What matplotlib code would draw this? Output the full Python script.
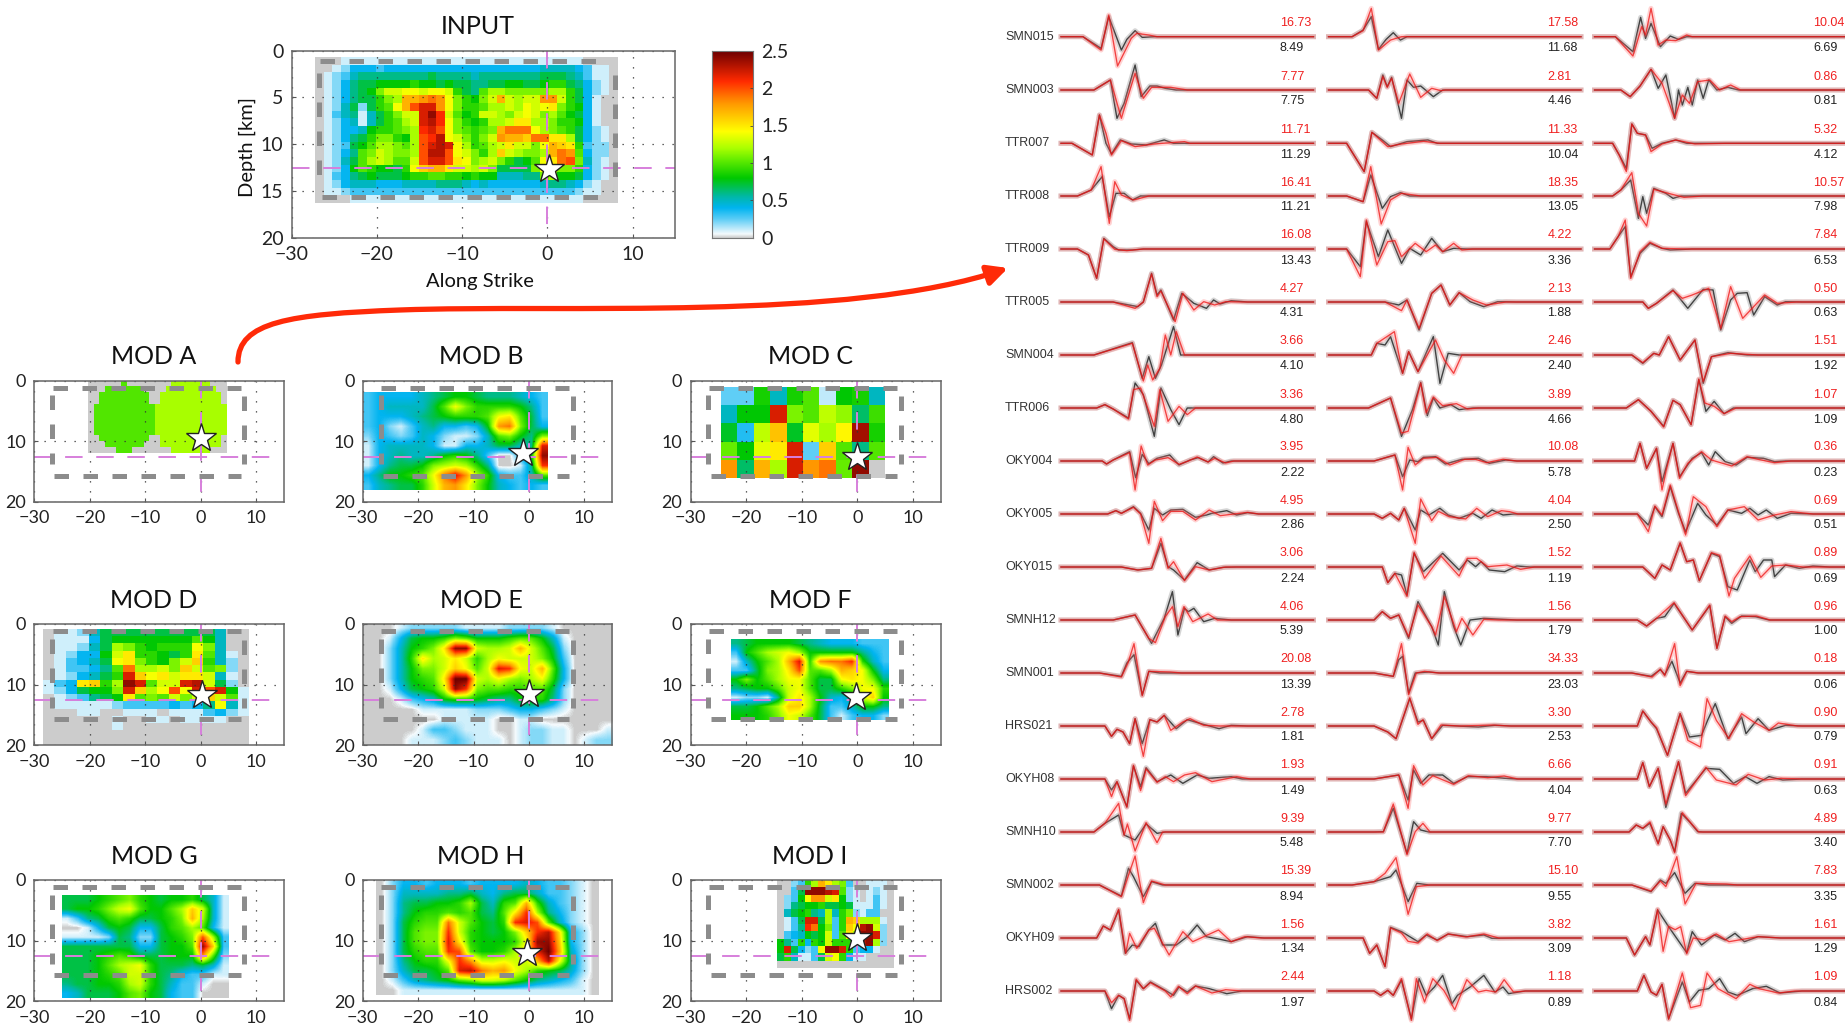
import matplotlib
matplotlib.use("Agg")
import matplotlib.pyplot as plt
import numpy as np
from matplotlib.colors import LinearSegmentedColormap
from matplotlib.patches import FancyArrowPatch
from matplotlib.path import Path

# slip grids, values are slip in tenths of a metre
input_grid = [
[0,0,0,1,1,1,1,1,1,1,1,1,1,1,1,1,1,1,1,1,1,1,1,1,1,1,1,1,1,1,1,0,0,0,0],
[0,0,1,2,4,4,4,3,4,4,4,4,4,4,4,4,4,4,4,4,4,4,4,4,4,4,5,5,5,5,4,3,1,1,0],
[0,1,2,3,5,6,6,6,6,6,6,6,6,7,6,6,6,6,5,6,6,6,6,6,6,6,7,7,7,6,5,3,1,1,0],
[0,1,2,4,6,7,7,8,8,8,8,9,8,8,7,8,7,7,6,6,7,7,8,8,7,7,8,9,9,7,6,4,2,1,0],
[0,1,2,4,6,7,8,11,13,13,14,14,13,14,14,13,9,7,6,10,12,12,11,11,11,11,11,12,12,9,7,4,2,1,0],
[0,1,2,4,6,7,7,9,11,12,17,17,18,19,18,14,11,9,8,11,13,17,13,12,13,13,18,18,13,9,7,4,1,0,0],
[0,1,2,5,7,2,7,9,10,14,17,20,22,22,18,14,11,9,9,10,12,12,13,12,14,13,14,15,11,9,8,4,1,0,0],
[0,1,3,5,6,1,5,7,9,11,13,13,22,24,21,13,10,8,9,13,13,12,11,13,14,13,11,12,10,8,7,4,1,0,0],
[0,1,2,4,5,1,5,7,9,10,12,13,22,23,21,14,11,9,8,9,12,12,13,15,15,12,12,11,9,9,8,4,1,0,0],
[0,1,2,4,4,5,8,9,9,10,11,12,21,22,20,14,11,10,9,10,11,17,19,19,19,14,12,11,10,9,7,4,2,1,0],
[0,1,2,4,6,7,9,11,11,9,8,12,20,21,23,14,13,11,9,11,13,18,17,17,16,19,19,15,15,12,7,4,2,1,0],
[0,1,2,3,7,8,10,12,12,11,10,12,20,22,23,22,14,12,9,10,12,13,15,13,13,11,14,17,16,15,9,3,2,2,0],
[0,1,2,4,6,10,11,13,12,11,11,12,20,23,23,20,14,13,11,9,12,16,13,12,11,11,12,17,19,18,10,4,2,2,0],
[0,1,2,5,7,10,12,13,12,10,10,13,20,22,22,20,15,14,11,12,13,11,9,7,8,10,14,15,19,20,11,5,2,1,0],
[0,1,2,4,8,10,9,8,8,7,9,14,16,17,17,15,13,13,12,13,11,7,7,7,7,11,14,13,11,11,9,4,2,1,0],
[0,1,3,4,6,7,8,7,7,7,8,9,9,10,10,9,9,8,9,8,8,5,5,5,6,6,11,12,8,8,7,4,2,1,0],
[0,1,2,4,5,5,5,4,4,4,5,5,5,5,6,6,6,5,4,5,4,4,4,4,4,4,5,6,6,5,4,2,1,0,0],
[0,1,1,2,3,3,3,3,3,3,3,3,3,3,3,3,3,3,3,3,3,3,3,3,3,3,3,3,3,3,2,1,1,0,0],
[0,0,0,0,1,1,1,1,1,1,1,1,1,1,1,1,1,1,1,1,1,1,1,1,1,1,1,1,1,1,1,0,0,0,0],
]
mod_a = [
[0,0,0,0,0,0,10,0,0,0,0,0,0,0,0,12,12,12,12,12,12,12,0,0,0],
[0,0,0,10,10,10,10,10,10,10,0,0,0,0,12,12,12,12,12,12,12,12,12,0,0],
[0,0,10,10,10,10,10,10,10,10,10,0,0,12,12,12,12,12,12,12,12,12,12,12,0],
[0,0,10,10,10,10,10,10,10,10,10,0,0,12,12,12,12,12,12,12,12,12,12,12,0],
[0,10,10,10,10,10,10,10,10,10,10,10,12,12,12,12,12,12,12,12,12,12,12,12,12],
[0,10,10,10,10,10,10,10,10,10,10,10,12,12,12,12,12,12,12,12,12,12,12,12,12],
[0,10,10,10,10,10,10,10,10,10,10,10,12,12,12,12,12,12,12,12,12,12,12,12,12],
[0,10,10,10,10,10,10,10,10,10,10,10,12,12,12,12,12,12,12,12,12,12,12,12,12],
[0,10,10,10,10,10,10,10,10,10,10,10,12,12,12,12,12,12,12,12,12,12,12,12,12],
[0,0,10,10,10,10,10,10,10,10,10,0,0,12,12,12,12,12,12,12,12,12,12,12,0],
[0,0,0,10,10,10,10,10,10,10,0,0,0,12,12,12,12,12,12,12,12,12,12,12,0],
[0,0,0,0,0,10,10,10,0,0,0,0,0,0,0,12,12,12,12,12,12,12,0,0,0],
]
mod_b = [
[3,4,4,4,4,5,6,7,8,8,7,6,6,6,5,4,3],
[3,4,5,5,5,5,7,10,14,11,9,9,9,9,8,6,3],
[3,4,4,4,5,6,7,8,9,9,9,10,14,15,10,7,3],
[3,4,2,1,3,5,6,4,4,3,4,8,18,19,11,7,4],
[2,4,3,2,3,5,4,2,1,1,2,5,10,11,8,6,11],
[1,4,5,5,5,5,4,1,1,4,4,5,7,7,5,6,22],
[1,4,5,6,5,5,6,8,9,8,6,3,0,0,4,8,24],
[1,4,6,7,7,8,11,12,13,12,9,6,0,0,1,6,21],
[4,6,8,8,9,10,14,19,22,18,12,9,4,3,3,5,10],
[3,5,6,7,7,9,13,17,18,15,11,8,5,4,3,4,3],
]
mod_c = [
[2.5,2.5,8.5,5,8.5,10,1.2,8,8.5,5],
[5,8,8,22,11,10,12.5,11.5,6.5,9.5],
[7.5,3.5,12.5,16.5,7.5,13.5,12,14.5,23.5,8.5],
[10.5,8,13.5,15,22,2.5,16,10,6,10],
[18,6.5,17,12,22,18,19,10.5,24,0],
]
mod_d = [
[0,1,1,2,5,7,7,7,7,7,7,7,7,7,7,5,0,0],
[0,1,1,1,4,7,8,8,8,8,8,8,8,10,8,5,0,0],
[0,1,1,2,5,7,12,11,9,8,9,9,9,14,11,5,0,0],
[0,1,2,4,4,8,13,15,9,9,8,7,9,15,10,5,1,0],
[0,1,3,4,5,7,14,15,11,9,8,11,13,16,9,5,2,0],
[0,1,3,3,4,6,10,19,12,12,13,11,16,13,10,11,2,0],
[0,1,2,4,5,7,9,22,16,14,15,13,15,15,13,5,1,0],
[1,3,4,15,16,9,12,24,22,10,13,13,22,23,13,7,2,0],
[1,2,4,7,8,8,11,22,16,12,14,20,14,22,20,22,8,1],
[0,1,2,3,6,7,8,15,10,11,10,13,11,13,16,13,10,1],
[0,1,1,1,1,1,2,3,3,3,3,4,3,4,6,14,5,1],
[0,0,0,1,1,0,0,1,1,1,0,1,1,1,3,4,2,1],
[0,0,0,0,0,0,1,0,0,1,1,0,1,1,1,1,0,0],
[0,0,0,0,0,0,1,0,0,0,0,0,0,0,0,0,0,0],
[0,0,0,0,0,0,0,0,0,0,0,0,0,0,0,0,0,0],
[0,0,0,0,0,0,0,0,0,0,0,0,0,0,0,0,0,0],
]
mod_e = [
[0,0,0,1,2,2,2,2,2,1,1,1,1,2,2,2,2,1,0,0,0,0,0],
[0,0,1,4,7,8,8,9,11,10,8,8,8,9,10,10,8,5,1,0,0,0,0],
[0,0,2,5,8,9,11,15,24,24,13,12,12,13,17,13,10,7,2,0,0,0,0],
[0,0,2,5,9,15,12,13,15,13,9,12,14,13,13,13,11,8,3,0,0,0,0],
[0,0,2,5,8,11,11,13,16,14,10,13,22,21,14,13,17,10,4,0,0,0,0],
[0,0,2,5,8,9,10,15,25,25,13,12,14,12,11,12,14,9,4,0,0,0,0],
[0,0,1,4,7,8,9,13,24,21,11,10,10,9,9,10,10,7,2,0,0,0,0],
[0,0,0,1,3,4,5,8,9,9,8,7,6,6,8,9,9,6,2,0,0,0,0],
[0,0,0,0,0,1,1,1,1,1,2,2,2,3,4,4,3,2,1,0,0,0,0],
[0,0,0,0,0,0,0,1,1,1,1,1,0,0,1,1,0,0,0,0,0,0,0],
[0,0,0,0,0,1,3,3,2,1,1,1,0,0,1,2,2,1,1,0,0,0,1],
[0,0,0,0,1,1,1,2,3,2,1,1,1,0,1,2,2,1,1,0,1,2,2],
]
mod_f = [
[6,7,8,8,8,8,7,6,5,4,4,4,3,3,3],
[3,8,10,12,13,14,12,8,8,8,8,8,6,4,3],
[1,5,8,10,12,17,22,9,18,19,19,21,9,5,3],
[3,3,7,11,12,15,20,10,10,12,17,16,14,8,4],
[8,11,8,10,12,14,14,10,7,7,14,15,14,11,6],
[6,7,8,8,10,13,14,10,7,7,9,11,14,14,9],
[1,2,2,1,6,13,15,12,8,5,4,6,13,16,8],
[7,7,8,10,12,16,16,12,7,3,3,5,8,8,6],
[8,8,8,9,11,14,13,10,7,3,1,3,4,4,2],
]
mod_g = [
[7,7,7,8,9,10,11,9,8,7,8,8,9,7,5,1],
[7,8,8,9,11,13,14,10,8,8,10,12,16,13,5,1],
[1,3,6,7,9,10,9,7,7,8,9,11,17,12,5,1],
[0,0,1,4,7,8,7,4,4,7,9,10,12,10,4,1],
[1,1,1,1,2,7,6,2,2,7,8,9,11,20,12,3],
[7,7,7,7,7,7,7,4,4,7,8,8,10,24,16,3],
[7,7,7,8,9,10,9,7,7,7,8,8,8,18,10,2],
[7,7,7,8,10,12,13,14,9,7,7,7,6,7,5,1],
[7,7,7,8,9,10,13,13,9,7,6,4,3,3,1,1],
[6,7,7,8,8,9,12,13,9,7,5,3,3,1,0,0],
[4,5,7,7,7,8,10,11,8,7,4,3,3,0,0,0],
]
mod_h = [
[0,2,4,4,3,4,4,4,3,4,4,4,4,5,4,3,3,2,1,0],
[0,2,5,5,5,5,6,6,7,5,4,6,7,7,5,3,3,2,1,0],
[0,2,6,7,7,8,8,9,12,7,5,9,10,17,9,5,3,2,1,0],
[0,2,6,8,9,9,10,9,10,7,6,10,15,21,12,6,4,2,1,0],
[0,2,7,9,10,10,19,13,10,8,7,9,21,22,20,10,5,2,1,0],
[0,2,7,10,11,11,21,13,9,8,7,8,11,16,21,23,15,4,2,0],
[0,2,7,10,11,11,22,15,9,8,8,8,9,14,24,24,16,4,2,0],
[0,2,7,9,10,10,21,20,10,8,8,9,12,16,22,25,17,5,2,0],
[0,2,6,8,9,9,14,21,18,13,13,14,13,13,17,23,14,6,2,0],
[0,2,5,7,7,8,10,22,23,19,17,18,14,12,9,8,7,5,2,0],
[0,1,3,5,6,7,8,10,11,13,13,12,10,8,6,5,4,3,1,0],
[0,0,1,1,1,1,1,1,1,1,1,1,1,1,1,1,1,1,1,0],
]
mod_i = [
[0,0,2,3,9,12,17,15,12,11,3,0,0,1,1,1,0],
[0,0,3,7,24,24,24,23,22,10,2,1,0,1,2,1,0],
[0,2,3,8,14,18,18,13,15,8,2,1,0,1,3,1,0],
[0,2,6,7,8,8,9,7,7,8,7,1,1,1,3,1,0],
[0,5,7,8,9,6,5,12,5,9,11,2,1,3,3,0,0],
[0,1,3,7,22,22,7,12,3,9,17,16,12,12,12,1,0],
[0,1,3,6,21,19,8,11,3,9,16,14,23,24,13,2,0],
[0,3,4,5,8,7,8,13,3,10,15,12,24,24,22,2,0],
[8,6,3,9,4,9,8,13,9,9,9,11,23,24,12,2,0],
[8,22,7,4,2,3,14,24,24,22,9,3,4,4,1,0,0],
[7,9,5,1,1,3,7,13,14,9,4,1,1,0,0,0,0],
[0,0,0,0,0,0,0,0,0,0,0,0,0,0,0,0,0],
]

# along strike and depth limits of each grid, then hypocentre star (None = no star)
mod_names = ["MOD A", "MOD B", "MOD C", "MOD D", "MOD E", "MOD F", "MOD G", "MOD H", "MOD I"]
mod_grids = [mod_a, mod_b, mod_c, mod_d, mod_e, mod_f, mod_g, mod_h, mod_i]
mod_extent = [(-20.4, 4.6, 12, 0), (-30, 3.3, 18, 2), (-24.5, 5, 16, 1), (-28.5, 8.5, 20, 1), (-30, 15, 20, 0),
              (-22.7, 5.6, 15.9, 2.7), (-25, 5.1, 19.4, 2.5), (-27.6, 12.6, 19, 0), (-14.5, 6.5, 14.5, 0)]
mod_smooth = [False, True, False, False, True, True, True, True, False]
mod_star_x = [0, -1, 0, 0.2, 0, -0.3, None, -0.3, 0]
mod_star_y = [9.5, 12, 12.5, 11.7, 11.5, 12, None, 12, 9.5]

stations = ["SMN015", "SMN003", "TTR007", "TTR008", "TTR009", "TTR005", "SMN004", "TTR006", "OKY004", "OKY005",
            "OKY015", "SMNH12", "SMN001", "HRS021", "OKYH08", "SMNH10", "SMN002", "OKYH09", "HRS002"]
peak_red = [[16.73, 17.58, 10.04], [7.77, 2.81, 0.86], [11.71, 11.33, 5.32], [16.41, 18.35, 10.57], [16.08, 4.22, 7.84],
            [4.27, 2.13, 0.50], [3.66, 2.46, 1.51], [3.36, 3.89, 1.07], [3.95, 10.08, 0.36], [4.95, 4.04, 0.69],
            [3.06, 1.52, 0.89], [4.06, 1.56, 0.96], [20.08, 34.33, 0.18], [2.78, 3.30, 0.90], [1.93, 6.66, 0.91],
            [9.39, 9.77, 4.89], [15.39, 15.10, 7.83], [1.56, 3.82, 1.61], [2.44, 1.18, 1.09]]
peak_black = [[8.49, 11.68, 6.69], [7.75, 4.46, 0.81], [11.29, 10.04, 4.12], [11.21, 13.05, 7.98], [13.43, 3.36, 6.53],
              [4.31, 1.88, 0.63], [4.10, 2.40, 1.92], [4.80, 4.66, 1.09], [2.22, 5.78, 0.23], [2.86, 2.50, 0.51],
              [2.24, 1.19, 0.69], [5.39, 1.79, 1.00], [13.39, 23.03, 0.06], [1.81, 2.53, 0.79], [1.49, 4.04, 0.63],
              [5.48, 7.70, 3.40], [8.94, 9.55, 3.35], [1.34, 3.09, 1.29], [1.97, 0.89, 0.84]]

# waveforms: time, amplitude, time, amplitude ... one list per component
obs_smn015 = [[40,0,73,-35,87,60,110,-40,120,-8,135,18,148,-2,170,0],[43,0,63,20,78,60,91,-38,105,-8,118,12,131,-10,143,0],[38,0,70,-45,84,58,93,-5,103,40,120,-30,138,2,153,-8,168,0]]
syn_smn015 = [[40,0,73,-40,87,65,103,-88,128,-5,138,10,160,5,175,0],[43,0,63,18,78,85,91,-40,113,-10,133,0],[38,0,70,-58,86,30,93,5,103,85,116,-25,130,-10,148,-12,168,5,178,0]]
obs_smn003 = [[60,0,90,30,102,-85,115,-40,135,75,146,-20,162,12,175,12,190,5,210,0],[73,0,88,-25,99,45,107,10,115,38,133,-85,143,30,155,8,168,12,191,-20,208,0],[48,0,65,-20,83,12,103,62,116,5,130,45,146,-85,153,0,160,-45,170,8,178,-45,188,30,198,-25,208,30,223,0,243,8,263,0]]
syn_smn003 = [[60,0,90,30,110,-85,120,-30,135,50,150,-25,165,8,200,8,230,0],[73,0,88,-25,99,40,107,8,115,35,128,-40,148,48,168,-22,188,5,205,-2,213,0],[48,0,65,-20,83,12,103,62,123,20,146,-85,160,-15,173,-40,188,25,210,30,228,0,248,15,266,0]]
obs_ttr007 = [[20,0,57,-35,70,85,82,0,92,-32,108,10,128,-2,155,-5,188,10,205,0],[33,0,65,-85,79,33,98,10,113,-10,143,5,181,10,198,0],[33,0,45,-35,58,-75,68,58,78,30,93,25,105,-15,123,0,148,10,168,0,208,0]]
syn_ttr007 = [[20,0,57,-35,70,85,82,30,92,-35,110,8,135,-10,170,-2,225,5,235,0],[33,0,65,-85,79,33,108,-10,133,-2,173,6,203,0],[33,0,45,-35,58,-85,68,58,78,30,93,25,103,-25,123,-2,148,10,183,-2,238,0]]
obs_ttr008 = [[30,0,55,18,75,58,88,-62,100,8,115,8,130,-12,145,0,160,0],[33,0,63,-17,77,63,98,-37,113,-2,131,10,148,0],[33,0,48,18,66,48,80,-67,88,-2,95,-52,108,23,130,8,143,-7,158,0]]
syn_ttr008 = [[30,0,55,18,73,88,88,-82,98,43,110,3,132,-12,160,0],[33,0,63,-17,77,88,96,-84,113,-12,133,8,168,0],[33,0,48,18,68,70,80,-52,95,-90,108,20,130,10,163,-4,198,0]]
obs_ttr009 = [[30,0,50,-18,65,-88,78,32,95,7,105,-3,130,-3,150,0],[33,0,58,-53,69,82,91,-23,108,57,133,-43,148,2,168,-18,188,32,208,-8,228,2,253,0],[28,0,43,37,56,67,66,-83,83,-13,101,17,123,2,138,-3,178,0]]
syn_ttr009 = [[30,0,50,-18,65,-88,78,30,98,-1,120,-5,150,0],[33,0,58,-83,69,87,88,-48,108,22,121,25,133,-23,158,17,178,-8,195,12,208,-8,228,17,243,-3,263,0],[28,0,43,37,56,87,66,-88,83,-8,101,20,123,2,168,0]]
obs_ttr005 = [[95,0,140,-14,150,0,165,86,175,21,182,36,205,-54,220,26,242,-4,265,-19,278,6,290,-6,310,4,340,0],[103,0,128,-9,143,6,165,-84,188,26,205,51,221,-9,238,28,258,1,283,-14,308,1,343,0],[88,0,98,-19,113,-4,143,36,170,-19,198,38,216,36,230,-84,248,6,260,26,278,28,290,-39,310,16,333,-9,348,1,378,0]]
syn_ttr005 = [[95,0,135,-19,150,0,165,84,175,16,182,33,208,-59,222,26,242,-24,260,1,280,-9,300,1,330,0],[103,0,133,-26,143,6,165,-79,188,26,205,51,221,-9,238,28,263,6,288,-9,323,0],[88,0,98,-19,113,-4,143,34,160,11,178,21,208,41,230,-79,248,46,270,-49,290,-14,310,21,333,-4,368,0]]
obs_smn004 = [[60,0,130,37,148,-70,160,-5,172,-70,183,-30,205,85,218,0,235,0],[78,0,88,35,103,30,113,55,135,-55,146,10,163,-50,191,55,203,-85,218,5,238,0],[68,0,88,-25,108,5,118,0,135,55,156,-15,183,45,198,-85,213,-5,243,7,278,0]]
syn_smn004 = [[60,0,130,35,150,-78,158,-30,167,-75,180,-40,190,60,200,0,210,70,225,0,240,0],[78,0,88,35,120,70,135,-55,146,10,163,-50,195,45,211,-15,228,-55,243,0],[68,0,88,-23,108,5,118,0,135,55,156,-15,183,45,198,-80,213,-5,248,5,298,0]]
obs_ttr006 = [[65,0,80,10,95,-3,123,-30,135,75,150,40,170,-85,182,60,200,-5,215,-50,230,0,255,0],[73,0,113,30,133,-85,153,-5,168,77,180,-23,191,30,203,0,223,10,238,-5,263,0],[58,0,80,25,103,-10,126,-55,143,23,156,10,176,-50,190,85,203,-10,218,20,236,-17,253,0,278,0]]
syn_ttr006 = [[65,0,80,10,95,-3,123,-33,132,55,145,60,170,-55,180,55,195,-40,215,5,230,-20,245,0],[73,0,113,30,133,-75,145,-70,168,75,178,-15,191,33,208,7,233,13,253,-3,273,0],[58,0,80,25,103,-10,126,-57,143,23,156,10,176,-50,190,87,201,15,218,5,236,-17,258,0]]
obs_oky004 = [[75,0,83,-9,95,3,125,28,136,-50,148,20,160,-8,175,8,198,18,215,-12,235,3,250,10,268,-3,278,13,295,-6,310,0,350,0],[83,0,121,18,135,-47,148,3,163,-2,173,11,195,13,213,-9,243,5,273,8,293,-7,323,3,343,0],[73,0,83,53,95,-22,113,38,123,-62,130,-22,143,53,155,-47,178,8,195,25,208,-12,220,28,238,-2,258,-12,278,11,308,8,328,-2,348,0]]
syn_oky004 = [[75,0,83,-9,95,3,125,25,135,-87,146,45,158,-12,172,3,195,10,215,-10,232,0,248,12,268,-3,280,8,300,-6,315,0],[83,0,121,18,135,-87,145,41,158,-12,173,8,198,11,221,-12,248,5,268,5,288,-5,318,5,343,0],[73,0,83,53,95,-22,113,38,123,-87,130,-32,143,53,155,-52,170,-7,195,28,213,3,250,-15,278,13,298,5,328,-5,358,0]]
obs_oky005 = [[85,0,100,10,110,2,132,22,145,2,160,-48,170,17,185,-3,200,12,222,14,245,-10,265,-3,275,2,302,10,320,-3,340,4,360,0],[83,0,98,-13,113,2,128,-18,138,17,158,-48,168,12,183,-3,203,17,218,-3,238,-13,263,2,278,-13,298,12,318,-3,338,0],[78,0,98,-33,110,22,123,-8,138,82,153,2,166,-53,188,32,203,-3,223,-33,243,12,268,2,283,17,298,-3,313,12,333,-13,358,2,398,0]]
syn_oky005 = [[85,0,100,10,110,2,132,20,145,0,160,-88,170,38,185,-20,200,8,222,8,245,-18,270,12,290,-5,340,5,360,0],[83,0,98,-13,113,2,128,-18,138,17,158,-88,168,45,188,-20,200,8,220,-8,250,-15,270,17,290,-8,315,10,330,7,345,0],[78,0,98,-53,110,24,123,-3,138,87,153,7,166,-63,180,52,203,22,223,-38,243,12,273,22,298,-18,328,-3,358,7,398,0]]
obs_oky015 = [[110,0,140,-9,165,-4,182,71,195,1,205,-9,225,-39,248,13,270,-9,295,-1,320,0],[98,0,108,-47,121,-19,133,-24,143,-84,156,41,173,-14,208,41,238,-9,253,21,268,1,278,16,293,-9,321,-14,343,3,368,0],[88,0,110,-34,123,6,138,-9,156,71,168,16,180,21,191,-41,213,41,228,31,243,-59,260,-69,283,21,293,-14,308,21,323,21,328,-29,348,6,373,-4,398,3,428,0]]
syn_oky015 = [[110,0,140,-9,165,-4,182,86,195,-4,205,16,225,-41,245,1,270,-9,300,0],[98,0,108,-47,121,-19,143,-88,156,44,175,-34,205,33,238,-27,253,26,270,26,290,1,325,6,350,-7,375,0],[88,0,110,-34,123,6,138,-9,156,73,168,16,180,21,191,-41,213,43,228,35,245,-87,255,-34,283,33,303,-31,323,3,348,6,380,0]]
obs_smnh12 = [[95,0,135,15,165,-70,188,5,203,85,213,-45,225,35,232,25,242,35,260,-5,280,5,310,0],[83,0,98,25,113,5,128,15,146,-55,163,55,188,-20,200,-75,211,85,228,-20,241,-75,258,0,283,5,343,0],[78,0,95,-18,113,5,128,10,145,50,178,-30,210,43,223,-85,238,10,250,-10,268,12,293,10,318,0]]
syn_smnh12 = [[95,0,135,15,160,-55,172,-68,190,10,203,40,213,-20,224,40,240,-5,268,18,285,0],[83,0,98,25,113,5,128,15,146,-50,163,45,188,-20,195,-45,211,70,233,-35,243,5,263,-45,283,2,310,0],[78,0,95,-18,113,5,145,52,178,-30,210,45,223,-85,238,12,250,-5,265,10,295,12,320,0]]
obs_smn001 = [[70,0,110,-10,120,30,133,55,148,-66,160,5,180,0],[83,0,118,-10,128,40,135,50,146,-60,158,0,183,3,203,0],[68,0,103,-10,120,10,128,-5,141,35,156,-30,168,5,188,0]]
syn_smn001 = [[70,0,110,-12,122,30,133,88,148,-68,160,5,200,3,220,0],[83,0,118,-10,133,88,146,-65,160,0,175,5,200,0],[68,0,105,-12,120,12,128,-8,146,88,156,-38,168,5,190,0]]
obs_hrs021 = [[80,0,92,-31,102,-10,113,-18,125,-53,135,22,148,-53,162,19,175,12,188,32,210,-8,230,19,255,7,288,-8,310,2,340,0],[83,0,108,-18,123,-38,148,82,163,12,173,17,188,-38,208,2,273,-3,303,2,333,0],[78,0,88,45,103,12,113,-8,133,-88,156,37,173,-33,195,-28,206,17,220,67,243,-38,268,27,276,-23,298,22,318,-13,348,2,378,0]]
syn_hrs021 = [[80,0,92,-31,102,-10,113,-18,125,-53,135,22,150,-91,162,19,175,12,188,32,200,-13,222,12,235,22,260,2,290,0],[83,0,108,-18,123,-38,148,85,163,5,172,19,188,-38,205,3,240,0,300,3,330,0],[78,0,88,45,103,12,113,-5,133,-88,156,37,170,-43,193,-63,205,82,222,17,245,-38,268,37,290,12,318,-13,335,9,370,0]]
obs_okyh08 = [[80,0,92,-33,102,-8,120,-83,132,39,145,-23,155,34,175,-8,200,12,222,-13,248,12,270,2,310,7,330,0],[83,0,128,12,145,-63,155,27,168,-13,183,12,208,12,228,-13,253,7,288,7,323,2,343,0],[78,0,88,49,100,-23,116,32,130,-85,153,52,166,-43,203,32,228,29,253,-13,275,7,296,-13,318,7,343,-3,378,0]]
syn_okyh08 = [[80,0,92,-53,102,-8,120,-85,132,41,145,-35,155,30,175,-10,190,7,205,-8,225,12,245,19,275,-8,320,7,345,0],[83,0,128,12,145,-88,155,40,172,-18,190,10,228,-16,255,10,290,4,320,9,345,0],[78,0,88,49,100,-23,116,32,130,-75,153,52,166,-50,203,35,222,-3,258,-18,280,14,310,-3,340,2,380,0]]
obs_smnh10 = [[60,0,80,26,105,51,115,-9,135,-24,155,24,175,-4,190,0],[83,0,100,1,118,71,143,-64,155,31,168,6,183,0],[63,0,76,21,88,11,101,26,116,-34,125,16,138,-24,146,-59,158,56,173,31,188,1,198,0]]
syn_smnh10 = [[60,0,80,26,105,86,115,-9,121,24,135,-57,155,28,175,-32,185,0],[83,0,100,0,118,84,143,-68,158,1,172,26,185,0],[63,0,76,21,88,11,101,30,116,-36,125,16,138,-24,146,-62,160,58,175,28,190,0]]
obs_smn002 = [[70,0,110,-33,123,50,132,25,150,-35,165,10,185,0],[43,0,83,10,113,25,123,45,145,-50,161,5,183,0],[68,0,103,-20,120,15,130,5,146,37,165,-25,183,5,208,0]]
syn_smn002 = [[70,0,110,-35,123,30,135,87,150,-53,165,12,190,0],[43,0,83,10,103,35,123,82,145,-88,160,-5,185,0],[68,0,103,-18,120,12,130,-5,150,85,165,-57,185,5,240,3,260,0]]
obs_okyh09 = [[65,0,77,36,90,24,105,84,117,-46,130,-21,142,-26,160,24,172,44,185,-21,210,-21,230,4,248,39,265,4,290,-4,310,-11,340,4,370,0],[63,0,75,-46,88,-21,103,-86,113,32,133,19,163,-11,178,9,198,-6,218,12,253,4,283,9,298,-1,343,0],[58,0,73,-51,93,4,101,-21,115,84,135,34,168,-44,178,19,195,-21,218,9,238,-6,256,14,273,-11,298,4,338,0]]
syn_okyh09 = [[65,0,77,36,90,24,105,86,118,-46,125,14,138,-31,160,24,170,29,197,-51,222,19,240,-11,287,24,310,-11,335,4,365,0],[63,0,75,-46,88,-21,103,-86,113,30,133,15,145,-10,163,-15,180,12,198,-8,218,12,250,3,283,12,310,0],[58,0,73,-51,93,4,101,-20,115,86,125,-40,135,35,147,25,157,34,168,-47,180,0,200,-6,222,12,245,-11,270,-4,298,4,340,0]]
obs_hrs002 = [[80,0,92,-53,105,-13,115,-23,125,-83,137,32,150,7,163,27,190,2,205,-13,215,12,230,-3,245,15,270,7,302,-8,330,0],[83,0,95,-13,108,2,118,-13,133,32,151,-83,165,37,178,-13,193,12,208,47,225,-38,235,-13,258,12,283,47,303,-3,318,12,328,-8,358,0],[78,0,90,47,103,-3,113,-13,123,20,135,-83,160,27,173,-33,190,2,208,7,228,37,243,-3,260,-13,288,7,313,14,338,-6,378,0]]
syn_hrs002 = [[80,0,92,-35,105,-13,115,-23,125,-88,137,35,150,7,163,25,190,0,200,-18,214,14,230,-8,245,15,275,-6,300,4,330,0],[83,0,95,-13,108,2,118,-13,133,37,151,-88,160,37,175,-33,190,37,210,2,230,-56,252,34,273,-3,287,2,305,-3,320,34,337,-3,360,0],[78,0,90,47,103,-3,113,-12,123,20,135,-85,160,54,175,-50,193,-43,205,54,225,7,258,-23,283,20,300,7,335,-6,365,0]]
obs_traces = [obs_smn015, obs_smn003, obs_ttr007, obs_ttr008, obs_ttr009, obs_ttr005, obs_smn004, obs_ttr006, obs_oky004, obs_oky005,
              obs_oky015, obs_smnh12, obs_smn001, obs_hrs021, obs_okyh08, obs_smnh10, obs_smn002, obs_okyh09, obs_hrs002]
syn_traces = [syn_smn015, syn_smn003, syn_ttr007, syn_ttr008, syn_ttr009, syn_ttr005, syn_smn004, syn_ttr006, syn_oky004, syn_oky005,
              syn_oky015, syn_smnh12, syn_smn001, syn_hrs021, syn_okyh08, syn_smnh10, syn_smn002, syn_okyh09, syn_hrs002]

W, H = 1845, 1026
plt.rcParams['font.family'] = ['Lato', 'DejaVu Sans']
fig = plt.figure(figsize=(W / 100, H / 100), dpi=100, facecolor='white')

slip_cmap = LinearSegmentedColormap.from_list("slip", [
    (0.0, "#cccccc"), (0.02, "#f4fafd"), (0.1, "#5ccdf6"), (0.16, "#00b4f0"), (0.22, "#00b8a8"), (0.32, "#00c800"),
    (0.42, "#66ee00"), (0.48, "#aaff00"), (0.57, "#ffff00"), (0.72, "#ff9900"), (0.84, "#ff2a00"), (1.0, "#6e0000")])

def px_axes(left, top, right, bottom):
    return fig.add_axes([left / W, 1 - bottom / H, (right - left) / W, (bottom - top) / H])

def fig_text(x, y, s, **kw):
    fig.text(x / W, 1 - y / H, s, ha='center', va='center', color='#111111', **kw)

def slip_panel(ax, grid, extent, smooth, star_x, star_y, yticks, big=False):
    ax.imshow(np.array(grid, dtype=float) / 10, cmap=slip_cmap, vmin=0, vmax=2.5, extent=extent, aspect='auto',
              interpolation='bilinear' if smooth else 'nearest', zorder=1)
    ax.set_xlim(-30, 15)
    ax.set_ylim(20, 0)
    ax.set_xticks([-30, -20, -10, 0, 10])
    ax.set_yticks(yticks)
    ax.tick_params(direction='in', length=3, width=0.8, color='#555555', labelcolor='#222222',
                   labelsize=14 if big else 13, pad=6)
    ax.grid(True, color='#333333', linestyle=(0, (1, 7)), linewidth=0.9, zorder=2)
    ax.set_axisbelow(False)
    for s in ax.spines.values():
        s.set_color('#666666')
        s.set_linewidth(1.1)
        s.set_zorder(6)
    pink = '#d77fdc'
    ax.plot([-30, 15 if big else 13], [12.5, 12.5], color=pink, lw=1.4, ls=(0, (9, 7)), zorder=3)
    ax.plot([0, 0], [0, 20], color=pink, lw=1.4, ls=(0, (9, 7)), zorder=3)
    # fault outline
    dash = dict(color='#8c8c8c', lw=3.6, ls=(0, (2.9, 2.9)), zorder=4, solid_capstyle='butt')
    ax.plot([-26.7, 7.2], [1.15, 1.15], **dash)
    ax.plot([-26.4, 7.2], [15.7, 15.7], **dash)
    ax.plot([-26.8, -26.8], [2.4, 13.8], **dash)
    ax.plot([7.9, 7.9], [2.6, 13.8], **dash)
    if star_x is not None:
        ax.plot([star_x], [star_y], marker='*', ms=22, mfc='white', mec='#222222', mew=1.0, zorder=5)

# INPUT
ax = px_axes(291.6, 50.7, 675.4, 237.7)
slip_panel(ax, input_grid, (-27.2, 8.3, 16.3, 0.7), False, 0.2, 12.7, [0, 5, 10, 15, 20], big=True)
fig_text(478, 26, "INPUT", fontsize=18)
fig_text(480, 282, "Along Strike", fontsize=14.5)
fig_text(247, 147, "Depth [km]", fontsize=14.5, rotation=90)

# colour bar
cax = px_axes(711.8, 50.7, 753, 237.7)
cax.imshow(np.linspace(2.5, 0, 256).reshape(-1, 1), cmap=slip_cmap, vmin=0, vmax=2.5, aspect='auto', extent=(0, 1, 0, 2.5))
cax.set_xticks([])
cax.yaxis.tick_right()
cax.set_yticks([0, 0.5, 1, 1.5, 2, 2.5])
cax.set_yticklabels(["0", "0.5", "1", "1.5", "2", "2.5"])
cax.tick_params(direction='in', length=2, width=0.6, color='#444444', labelcolor='#222222', labelsize=14, pad=6)
for s in cax.spines.values():
    s.set_color('#777777')

# model panels
left_edges = [34.4, 362.8, 690.7]
right_edges = [283.8, 611.9, 940.7]
top_edges = [380.7, 624, 880]
title_x = [154, 481, 810]
title_y = [356, 600, 856]
for i, name in enumerate(mod_names):
    r, c = divmod(i, 3)
    ax = px_axes(left_edges[c], top_edges[r], right_edges[c], top_edges[r] + 121.3)
    slip_panel(ax, mod_grids[i], mod_extent[i], mod_smooth[i], mod_star_x[i], mod_star_y[i], [0, 10, 20])
    fig_text(title_x[c], title_y[r], name, fontsize=18)

# waveform columns
col_start = [1061, 1328.5, 1594.5]
row_base = [36.7, 90, 143.3, 196, 249, 302, 355, 408, 461, 514, 567, 620, 673, 726, 779, 832, 885, 938, 991]
small = ['Liberation Sans', 'DejaVu Sans']
for c in range(3):
    ax = px_axes(col_start[c], 0, col_start[c] + 252.5, H)
    ax.set_xlim(0, 460)
    ax.set_ylim(-3 * H, 0)
    ax.axis('off')
    ax.patch.set_alpha(0)
    for i, base in enumerate(row_base):
        for trace, col, halo, lw in ((obs_traces[i][c], '#111111', '#777777', 1.0), (syn_traces[i][c], '#ee1010', '#ff6a6a', 0.95)):
            pts = np.array(trace, dtype=float).reshape(-1, 2)
            t = np.concatenate([[0], pts[:, 0], [460]])
            a = np.concatenate([[0], pts[:, 1], [0]]) - 3 * base
            ax.plot(t, a, color=halo, lw=3.6, alpha=0.3, clip_on=False, solid_joinstyle='round')
            ax.plot(t, a, color=col, lw=lw, alpha=0.75, clip_on=False, solid_joinstyle='round')
        fig.text((col_start[c] + 219) / W, 1 - (base - 13.5) / H, "%.2f" % peak_red[i][c], color='#f02020',
                 fontsize=9, family=small, ha='left', va='center')
        fig.text((col_start[c] + 219) / W, 1 - (base + 11.5) / H, "%.2f" % peak_black[i][c], color='#222222',
                 fontsize=9, family=small, ha='left', va='center')
for i, name in enumerate(stations):
    fig.text(1005 / W, 1 - row_base[i] / H, name, color='#333333', fontsize=9,
             family=small, ha='left', va='center')

# big red arrow from MOD A to the waveforms
over = fig.add_axes([0, 0, 1, 1])
over.set_xlim(0, W)
over.set_ylim(H, 0)
over.axis('off')
over.patch.set_alpha(0)
arrow_path = Path([(238, 362), (238, 322), (290, 314), (400, 310), (560, 304), (850, 322), (1008, 268)],
                  [Path.MOVETO, Path.CURVE4, Path.CURVE4, Path.CURVE4, Path.CURVE4, Path.CURVE4, Path.CURVE4])
over.add_patch(FancyArrowPatch(path=arrow_path, arrowstyle='-|>,head_length=12,head_width=6', color='#ff2a08',
                               lw=3.8, mutation_scale=1, shrinkA=0, shrinkB=0))

fig.savefig("out.png", dpi=100)
